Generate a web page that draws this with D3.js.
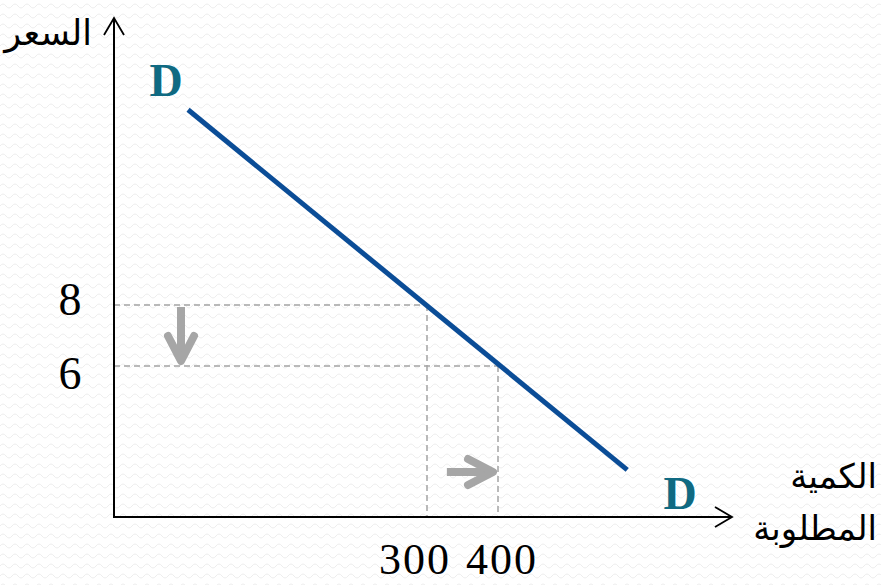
<!DOCTYPE html>
<html>
<head>
<meta charset="utf-8">
<script src="https://cdn.jsdelivr.net/npm/d3@7"></script>
<style>
  html, body { margin: 0; padding: 0; background: #ffffff; }
  svg { display: block; }
</style>
</head>
<body>
<svg id="chart" width="881" height="585"></svg>
<script>
// ---- data ----
const priceTicks = [6, 8];            // السعر
const quantityTicks = [300, 400];     // الكمية المطلوبة
const quantityTickLabels = ["300", "400"];
const priceTickLabels = ["6", "8"];
// demand curve D (quantity, price) end points
const demandQ = [71, 582];
const demandP = [14.4, 1.87];
// movement arrows
const priceMove = [8, 6];
const quantityMove = [328, 400];
const yAxisTitle = "السعر";
const xAxisTitle = ["الكمية", "المطلوبة"];
const curveLabel = "D";

// ---- scales (schematic, piecewise) ----
const x = d3.scaleLinear().domain([0, 300, 400, 600]).range([114, 427, 498, 640]);
const y = d3.scaleLinear().domain([0, 6, 8, 16]).range([517, 366, 305, 61]);

const svg = d3.select("#chart");
const defs = svg.append("defs");
const pat = defs.append("pattern").attr("id", "bg").attr("width", 12).attr("height", 10)
  .attr("patternUnits", "userSpaceOnUse");
pat.append("path").attr("d", "M0 6 Q3 2 6 6 T12 6").attr("fill", "none")
  .attr("stroke", "#ededed").attr("stroke-width", 1);
svg.append("rect").attr("width", 881).attr("height", 585).attr("fill", "#ffffff");
svg.append("rect").attr("width", 881).attr("height", 585).attr("fill", "url(#bg)");

const x0 = x(0), y0 = y(0);
const axisColor = "#000";

// dashed guide lines
const dash = svg.append("g").attr("stroke", "#a4a4a4").attr("stroke-width", 1.5)
  .attr("stroke-dasharray", "6,4").attr("fill", "none");
priceTicks.forEach((p, i) => {
  const q = quantityTicks[1 - i];
  dash.append("line").attr("x1", x0).attr("x2", x(q)).attr("y1", y(p)).attr("y2", y(p));
  dash.append("line").attr("x1", x(q)).attr("x2", x(q)).attr("y1", y(p)).attr("y2", y0);
});

// axes
const ax = svg.append("g").attr("stroke", axisColor).attr("fill", "none").attr("stroke-width", 2);
ax.append("line").attr("x1", x0).attr("y1", y0 + 1).attr("x2", x0).attr("y2", 18);
ax.append("polyline").attr("points", `${x0 - 10},35 ${x0},18 ${x0 + 10},35`).attr("stroke-width", 1.8);
ax.append("line").attr("x1", x0 - 1).attr("y1", y0).attr("x2", 732).attr("y2", y0);
ax.append("polyline").attr("points", `715,507 732,${y0} 715,527`).attr("stroke-width", 1.8);

// demand curve
const line = d3.line().x(d => x(d[0])).y(d => y(d[1]));
svg.append("path").datum(demandQ.map((q, i) => [q, demandP[i]]))
  .attr("d", line).attr("fill", "none").attr("stroke", "#0b4d97").attr("stroke-width", 5);

// gray movement arrows
const arr = svg.append("g").attr("stroke", "#a6a6a6").attr("stroke-width", 8)
  .attr("stroke-linecap", "round").attr("stroke-linejoin", "round").attr("fill", "none");
const ax1 = 181;
arr.append("line").attr("x1", ax1).attr("x2", ax1).attr("y1", y(priceMove[0]) + 2).attr("y2", y(priceMove[1]) - 6)
  .attr("stroke-linecap", "butt");
arr.append("polyline").attr("points", `${ax1 - 13},${y(priceMove[1]) - 30} ${ax1},${y(priceMove[1]) - 5} ${ax1 + 13},${y(priceMove[1]) - 30}`);
const ay = 472;
arr.append("line").attr("x1", x(quantityMove[0])).attr("x2", x(quantityMove[1]) - 6).attr("y1", ay).attr("y2", ay)
  .attr("stroke-linecap", "butt");
arr.append("polyline").attr("points", `${x(quantityMove[1]) - 30},${ay - 13} ${x(quantityMove[1]) - 5},${ay} ${x(quantityMove[1]) - 30},${ay + 13}`);

// tick labels
const serif = "'Liberation Serif', 'DejaVu Serif', serif";
svg.append("g").selectAll("text").data(priceTicks).join("text")
  .attr("x", 70).attr("y", d => y(d) + (d === 6 ? 23 : 10)).attr("text-anchor", "middle")
  .attr("font-family", serif).attr("font-size", 46).attr("fill", "#000")
  .text((d, i) => priceTickLabels[i]);
svg.append("g").selectAll("text").data(quantityTicks).join("text")
  .attr("x", (d, i) => x(d) + (i === 0 ? -12 : 4)).attr("y", 574).attr("text-anchor", "middle")
  .attr("font-family", serif).attr("font-size", 44).attr("letter-spacing", 2).attr("fill", "#000")
  .text((d, i) => quantityTickLabels[i]);

// curve labels
const dStyle = s => s.attr("font-family", serif).attr("font-weight", "bold")
  .attr("font-size", 46).attr("fill", "#106a82").attr("text-anchor", "middle");
svg.append("text").attr("x", x(demandQ[0]) - 22).attr("y", y(demandP[0]) - 14).text(curveLabel).call(dStyle);
svg.append("text").attr("x", x(demandQ[1]) + 53).attr("y", y(demandP[1]) + 39).text(curveLabel).call(dStyle);

// axis titles (Arabic)
const arFont = "'DejaVu Sans', 'Noto Sans', sans-serif";
svg.append("text").attr("x", 92).attr("y", 45).attr("text-anchor", "start").attr("direction", "rtl")
  .attr("font-family", arFont).attr("font-size", 35).attr("fill", "#000").text(yAxisTitle);
xAxisTitle.forEach((t, i) => {
  svg.append("text").attr("x", 877).attr("y", 488 + i * 52).attr("text-anchor", "start").attr("direction", "rtl")
    .attr("font-family", arFont).attr("font-size", 34).attr("fill", "#000").text(t);
});
</script>
</body>
</html>
